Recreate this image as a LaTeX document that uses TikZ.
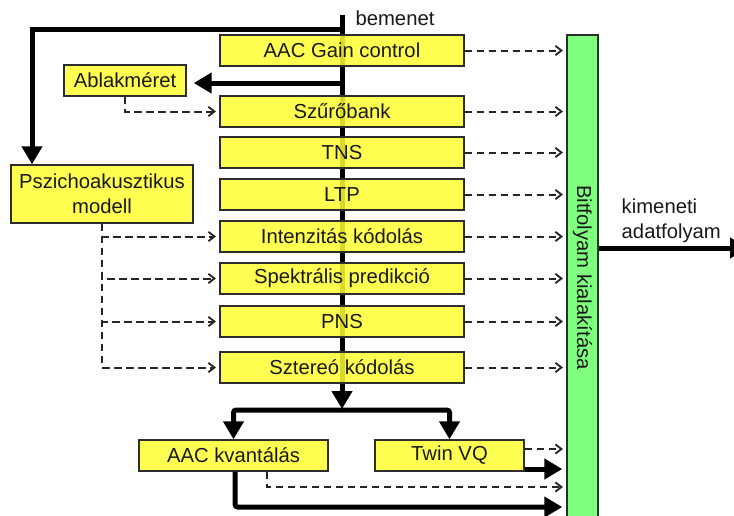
\documentclass[tikz,border=0pt]{standalone}
\usepackage{fontspec}
\setmainfont{Liberation Sans}
\usetikzlibrary{arrows.meta}
\definecolor{boxyellow}{RGB}{255,255,51}
\definecolor{bargreen}{RGB}{128,255,128}
\definecolor{edgegray}{RGB}{45,45,45}
\begin{document}
\begin{tikzpicture}[x=0.75pt,y=-0.75pt,
  lbl/.style={font=\fontsize{15.2}{18.5}\selectfont, text=black!90},
  procbox/.style={lbl, draw=edgegray, line width=1.1pt, fill=boxyellow,
    fill opacity=0.85, text opacity=1, minimum height=23.25pt, inner sep=0pt},
  mainbox/.style={procbox, minimum width=183pt},
  flowline/.style={line width=3.75pt},
  flow/.style={flowline, -{Triangle[width=15pt,length=13.5pt]}},
  ctrl/.style={dash pattern=on 5.5pt off 3.5pt, line width=1.5pt, draw=black!85,
    -{Straight Barb[length=4.5pt,width=7pt,line width=1.4pt]}, shorten >=2.5pt},
]
\useasboundingbox (0,0) rectangle (734,515);

% signal path coordinates
\coordinate (in) at (342,15);
\coordinate (tapA) at (342,29);
\coordinate (tapB) at (342,83);
\coordinate (pl) at (32,29);
\coordinate (splittop) at (342,409);
\coordinate (split) at (342,410);
\coordinate (outy) at (0,248);
\coordinate (outend) at (748,248);
\coordinate (ty1) at (0,449);
\coordinate (ty2) at (0,469);
\coordinate (kd) at (267,487);
\coordinate (kt) at (235,507);

% main input line runs behind the coding stages
\draw[flow] (in) -- (splittop);

% coding stages
\node[mainbox] (gain)    at (342,50.5)  {AAC Gain control};
\node[mainbox] (szuro)   at (342,111.5) {Szűrőbank};
\node[mainbox] (tns)     at (342,152.5) {TNS};
\node[mainbox] (ltp)     at (342,194.5) {LTP};
\node[mainbox] (intenz)  at (342,236.5) {Intenzitás kódolás};
\node[mainbox] (spekt)   at (342,278.5) {Spektrális predikció};
\node[mainbox] (pns)     at (342,321.5) {PNS};
\node[mainbox] (sztereo) at (342,367.5) {Sztereó kódolás};

\node[procbox, minimum width=91.5pt] (ablak) at (125,80.5) {Ablakméret};
\node[procbox, minimum width=136.5pt, minimum height=43.5pt, align=center]
  (pszicho) at (102,194) {Pszichoakusztikus\\modell};

\node[procbox, minimum width=141.75pt] (kvant) at (233.5,455.5) {AAC kvantálás};
\node[procbox, minimum width=111.75pt] (twin)  at (449.5,455.5) {Twin VQ};

% bitstream multiplexer
\node[lbl, draw=edgegray, line width=1.1pt, fill=bargreen, inner sep=0pt,
  minimum width=23.25pt, minimum height=363.75pt] (bit) at (582.5,277.5)
  {\rotatebox{-90}{Bitfolyam kialakítása}};

% labels
\node[lbl] (inlbl) at (395,18) {bemenet};
\node[lbl, anchor=west, align=left] (outlbl) at (617,221) {kimeneti\\adatfolyam};

% thick signal connections
\draw[flow] (tapA) -| (pszicho.north -| pl);
\draw[flow, shorten >=5.25pt] (tapB) -- (ablak.east |- tapB);
\draw[flow, rounded corners=2pt] (split) -| (kvant.north);
\draw[flow, rounded corners=2pt] (split) -| (twin.north);
\draw[flow, shorten >=3pt] (twin.east |- ty2) -- (bit.west |- ty2);
\draw[flow, shorten >=3pt, rounded corners=2pt] (kvant.south -| kt) |- (bit.west |- kt);
\draw[flow] (bit.east |- outy) -- (outend);

% side information (dashed)
\draw[ctrl] (ablak.south) |- (szuro.west);
\draw[ctrl] (pszicho.south) |- (intenz.west);
\draw[ctrl] (pszicho.south) |- (spekt.west);
\draw[ctrl] (pszicho.south) |- (pns.west);
\draw[ctrl] (pszicho.south) |- (sztereo.west);
\foreach \b in {gain,szuro,tns,ltp,intenz,spekt,pns,sztereo}
  \draw[ctrl] (\b.east) -- (\b.east -| bit.west);
\draw[ctrl] (twin.east |- ty1) -- (bit.west |- ty1);
\draw[ctrl] (kvant.south -| kd) |- (bit.west |- kd);
\end{tikzpicture}
\end{document}
